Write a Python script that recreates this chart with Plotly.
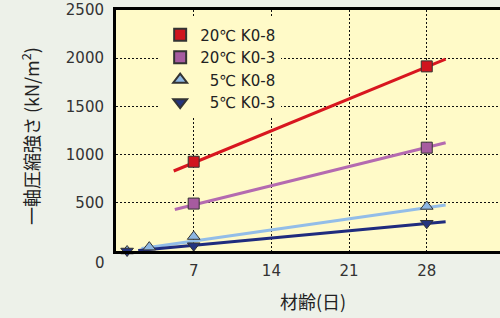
import plotly.graph_objects as go

# ---- data ----
days_20 = [7, 28]
k08_20 = [926, 1915]
k03_20 = [492, 1072]

days_5_k08 = [1, 3, 7, 28]
k08_5 = [0, 40, 150, 462]
days_5_k03 = [1, 7, 28]
k03_5 = [0, 55, 288]

# fitted lines (start/end)
fit_x_k08_20 = [5.2, 29.7]
fit_y_k08_20 = [830, 1990]
fit_x_k03_20 = [5.3, 29.7]
fit_y_k03_20 = [430, 1123]
fit_x_k08_5 = [2.3, 29.7]
fit_y_k08_5 = [25, 477]
fit_x_k03_5 = [2.0, 29.7]
fit_y_k03_5 = [5, 304]

x_ticks = [7, 14, 21, 28]
y_ticks = [500, 1000, 1500, 2000, 2500]

names = ["20℃ K0-8", "20℃ K0-3", "\u00a0\u00a05℃ K0-8", "\u00a0\u00a05℃ K0-3"]
colors_line = ["#D8161F", "#B46AB0", "#93BDE8", "#1F2B7E"]
colors_mk = ["#D0141E", "#A65BA0", "#8DB6E2", "#24337F"]
symbols = ["square", "square", "triangle-up", "triangle-down"]

PLOT_BG = "#FFFAC8"
PAPER_BG = "#EDF1E9"

fig = go.Figure()

fits = [(fit_x_k08_20, fit_y_k08_20), (fit_x_k03_20, fit_y_k03_20),
        (fit_x_k08_5, fit_y_k08_5), (fit_x_k03_5, fit_y_k03_5)]
for (fx, fy), c in zip(fits, colors_line):
    fig.add_trace(go.Scatter(x=fx, y=fy, mode="lines", showlegend=False,
                             line=dict(color=c, width=3), hoverinfo="skip"))

pts = [(days_20, k08_20), (days_20, k03_20), (days_5_k08, k08_5), (days_5_k03, k03_5)]
for (px, py), n, c, s in zip(pts, names, colors_mk, symbols):
    fig.add_trace(go.Scatter(x=px, y=py, mode="markers", name=n, cliponaxis=False,
                             marker=dict(symbol=s, size=11, color=c,
                                         line=dict(color="#333333", width=1))))

fig.update_layout(
    width=500, height=318,
    margin=dict(l=116, r=0, t=10, b=67),
    paper_bgcolor=PAPER_BG, plot_bgcolor=PLOT_BG,
    font=dict(family="DejaVu Sans", size=15, color="#333333"),
    showlegend=True,
    legend=dict(x=0.115, y=0.965, xanchor="left", yanchor="top",
                bgcolor=PLOT_BG, borderwidth=0,
                font=dict(family="DejaVu Sans", size=15, color="#222222"),
                tracegroupgap=0, itemsizing="constant"),
    xaxis=dict(range=[0, 34.6], tickvals=x_ticks, ticktext=[str(v) for v in x_ticks],
               showgrid=True, gridcolor="#111111", gridwidth=1, griddash="2px,2px",
               showline=True, linecolor="#000000", linewidth=3, mirror=True,
               zeroline=False, ticks="", ticklabelstandoff=4,
               tickfont=dict(size=15, color="#333333")),
    yaxis=dict(range=[0, 2500], tickvals=y_ticks, ticktext=[str(v) for v in y_ticks],
               showgrid=True, gridcolor="#111111", gridwidth=1, griddash="2px,2px",
               showline=True, linecolor="#000000", linewidth=3,
               zeroline=False, ticks="", ticklabelstandoff=6,
               tickfont=dict(size=15, color="#333333")),
)

fig.add_annotation(text="0", xref="paper", yref="paper",
                   x=(100 - 116) / 384, y=(251 - 263) / 241,
                   xanchor="center", yanchor="middle",
                   showarrow=False, font=dict(size=15, color="#333333"))
fig.add_annotation(text="一軸圧縮強さ (kN/m<sup>2</sup>)", xref="paper", yref="paper",
                   x=(30 - 116) / 384, y=(251 - 136) / 241, textangle=-90,
                   xanchor="center", yanchor="middle",
                   showarrow=False,
                   font=dict(family="Noto Sans CJK JP", size=18, color="#222222"))
fig.add_annotation(text="材齢(日)", xref="paper", yref="paper",
                   x=(313 - 116) / 384, y=(251 - 301) / 241,
                   xanchor="center", yanchor="middle",
                   showarrow=False,
                   font=dict(family="Noto Sans CJK JP", size=18, color="#222222"))

fig.write_html("out.html", config={"displayModeBar": False},
               post_script="document.body.style.margin='0';document.body.style.overflow='hidden';")
